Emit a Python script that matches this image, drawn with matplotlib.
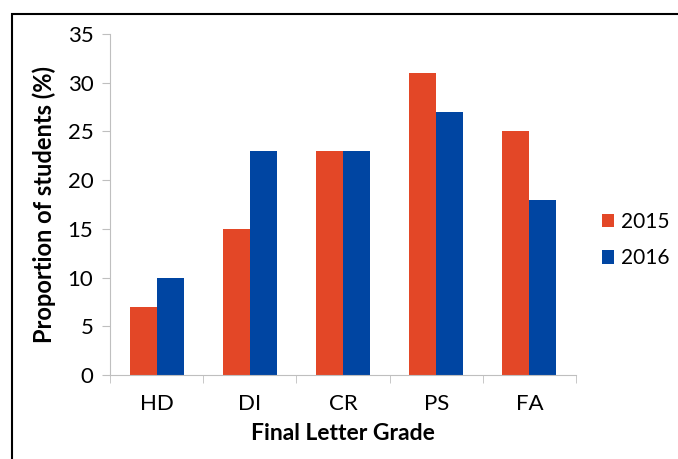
import matplotlib
matplotlib.use("Agg")
import matplotlib.pyplot as plt
import numpy as np
from matplotlib.patches import Rectangle

grades = ["HD", "DI", "CR", "PS", "FA"]
y2015 = [7, 15, 23, 31, 25]
y2016 = [10, 23, 23, 27, 18]
yticks = [0, 5, 10, 15, 20, 25, 30, 35]

plt.rcParams['font.family'] = ['Lato', 'DejaVu Sans']

fig = plt.figure(figsize=(6.78, 4.59), dpi=100)
ax = fig.add_axes([110/678, 1-375/459, (576-110)/678, (375-34)/459])

x = np.arange(len(grades))
w = 0.29
ax.bar(x - w/2, y2015, w, color="#E34727", label="2015")
ax.bar(x + w/2, y2016, w, color="#0045A2", label="2016")

ax.set_xlim(-0.5, len(grades) - 0.5)
ax.set_ylim(0, 35)
ax.set_yticks(yticks)
ax.set_xticks(x)
ax.set_xticklabels(grades, fontsize=16)
ax.set_xticks(np.arange(len(grades) + 1) - 0.5, minor=True)
ax.tick_params(axis='x', which='major', length=0, pad=14)
ax.tick_params(axis='x', which='minor', length=6, color="#BFBFBF")
ax.tick_params(axis='y', length=6, color="#BFBFBF", labelsize=16, pad=6)
for s in ["top", "right"]:
    ax.spines[s].set_visible(False)
for s in ["left", "bottom"]:
    ax.spines[s].set_color("#BFBFBF")

ax.set_xlabel("Final Letter Grade", fontsize=16.5, fontweight="bold", labelpad=6)
ax.set_ylabel("Proportion of students (%)", fontsize=17, fontweight="bold", labelpad=8)

fig.legend(loc="center left", bbox_to_anchor=(583/678, 1-240/459), frameon=False,
           fontsize=15, handlelength=0.6, handleheight=0.6, handletextpad=0.3,
           labelspacing=0.8)

fig.patches.append(Rectangle((12/678, -0.1), 1.2, 1-14/459 + 0.1, transform=fig.transFigure,
                             fill=False, edgecolor="black", linewidth=1.5))

fig.savefig("out.png", dpi=100)
